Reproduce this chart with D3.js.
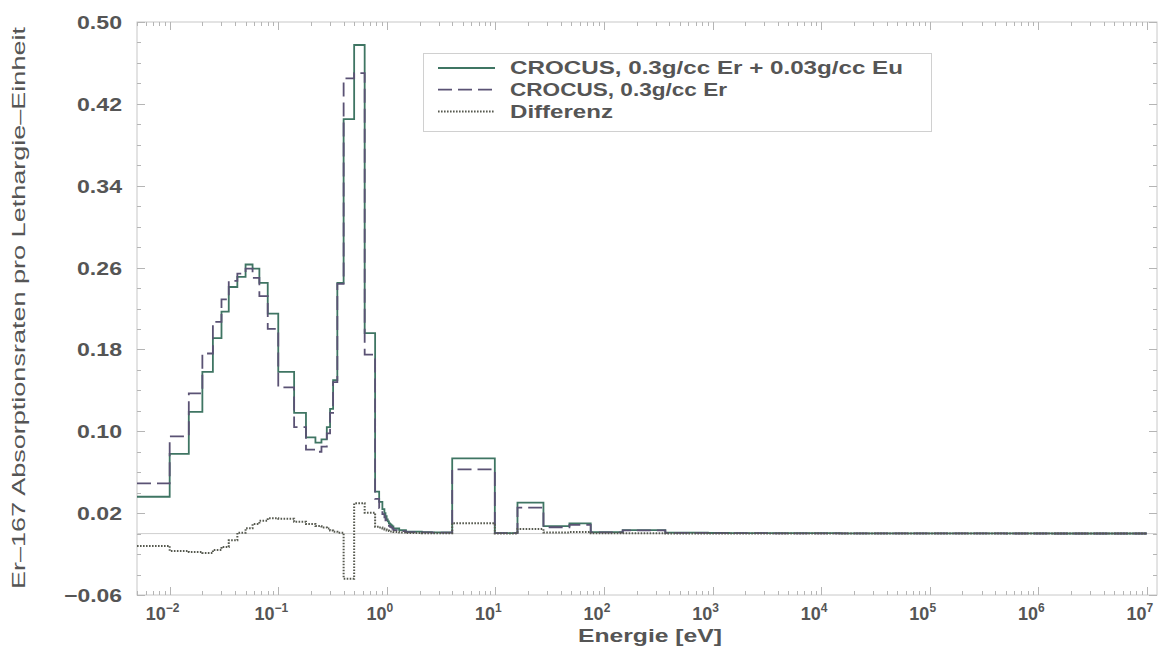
<!DOCTYPE html>
<html>
<head>
<meta charset="utf-8">
<script src="https://cdn.jsdelivr.net/npm/d3@7"></script>
<style>
  html, body { margin: 0; padding: 0; background: #fff; }
  svg { display: block; }
  text { font-family: "Liberation Sans", Arial, Helvetica, sans-serif; fill: #555; }
</style>
</head>
<body>
<svg id="chart" width="1161" height="652"></svg>
<script>
// WIMS 69-group energy boundaries (eV), ascending, from 5 meV up to 10 MeV
const groupEdges = [0.005, 0.01, 0.015, 0.02, 0.025, 0.03, 0.035, 0.042, 0.05, 0.058, 0.067, 0.08,
  0.1, 0.14, 0.18, 0.22, 0.25, 0.28, 0.3, 0.32, 0.35, 0.4, 0.5, 0.625, 0.78, 0.85, 0.91, 0.95,
  0.972, 0.996, 1.02, 1.045, 1.071, 1.097, 1.123, 1.15, 1.3, 1.5, 2.1, 2.6, 3.3, 4.0, 9.877,
  15.968, 27.7, 48.052, 75.501, 148.73, 367.26, 906.9, 1425.1, 2239.45, 3519.1, 5530, 9118,
  15030, 24780, 40850, 67340, 111000, 183000, 302500, 500000, 821000, 1353000, 2231000,
  3679000, 6065500, 1e7];

// Er-167 absorption rate per unit lethargy, CROCUS with 0.3 g/cc Er + 0.03 g/cc Eu
const rateErEu = [0.036, 0.078, 0.119, 0.158, 0.191, 0.217, 0.241, 0.251, 0.263, 0.259, 0.245, 0.215,
  0.158, 0.118, 0.094, 0.089, 0.092, 0.104, 0.122, 0.150, 0.245, 0.405, 0.4775, 0.196, 0.041, 0.031,
  0.024, 0.020, 0.017, 0.014, 0.012, 0.010, 0.009, 0.008, 0.007, 0.005, 0.0035, 0.002, 0.0015, 0.0012,
  0.0012, 0.0736, 0.0005, 0.0302, 0.0074, 0.010, 0.0015, 0.0035, 0.0010, 0.0006, 0.0005, 0.0005,
  0.0004, 0.0004, 0.0004, 0.0003, 0.0003, 0.0003, 0.0003, 0.0002, 0.0002, 0.0002, 0.0002, 0.0002,
  0.0001, 0.0001, 0.0001, 0.0001];

// Same quantity, CROCUS with 0.3 g/cc Er only
const rateEr = [0.049, 0.095, 0.137, 0.176, 0.207, 0.229, 0.247, 0.254, 0.259, 0.250, 0.232, 0.200,
  0.143, 0.104, 0.082, 0.080, 0.085, 0.098, 0.118, 0.148, 0.244, 0.445, 0.450, 0.175, 0.034, 0.025,
  0.019, 0.016, 0.013, 0.011, 0.009, 0.0075, 0.0065, 0.006, 0.005, 0.0035, 0.0025, 0.0015, 0.0012,
  0.0009, 0.0009, 0.0628, 0.0004, 0.0253, 0.0062, 0.0085, 0.0012, 0.0031, 0.0008, 0.0005, 0.0004,
  0.0004, 0.0003, 0.0003, 0.0003, 0.0003, 0.0003, 0.0002, 0.0002, 0.0002, 0.0002, 0.0002, 0.0001,
  0.0001, 0.0001, 0.0001, 0.0001, 0.0001];

// Difference between the two rates
const rateDiff = [-0.012, -0.017, -0.018, -0.019, -0.016, -0.013, -0.0066, 0.0009, 0.0052, 0.0094,
  0.0126, 0.015, 0.0145, 0.0116, 0.0094, 0.0074, 0.006, 0.005, 0.003, 0.0019, 0.0009, -0.044, 0.0296,
  0.0204, 0.0068, 0.006, 0.005, 0.004, 0.004, 0.003, 0.003, 0.0025, 0.002, 0.002, 0.002, 0.0015,
  0.001, 0.0005, 0.0003, 0.0003, 0.0003, 0.0101, 0.0001, 0.0045, 0.0012, 0.0015, 0.0003, 0.0004,
  0.0002, 0.0001, 0.0001, 0.0001, 0.0001, 0.0001, 0.0001, 0.0, 0.0, 0.0, 0.0, 0.0, 0.0, 0.0, 0.0,
  0.0, 0.0, 0.0, 0.0, 0.0];

const yTickValues = [-0.06, 0.02, 0.10, 0.18, 0.26, 0.34, 0.42, 0.50];
const xTickExponents = [-2, -1, 0, 1, 2, 3, 4, 5, 6, 7];

const legendLabels = ["CROCUS, 0.3g/cc Er + 0.03g/cc Eu", "CROCUS, 0.3g/cc Er", "Differenz"];
const xTitle = "Energie [eV]";
const yTitle = "Er\u2013167 Absorptionsraten pro Lethargie\u2013Einheit";

const svg = d3.select("#chart");
const frame = { left: 137, right: 1157, top: 22, bottom: 595 };

const x = d3.scaleLog().domain([5e-3, 1.24e7]).range([frame.left, frame.right]);
const y = d3.scaleLinear().domain([-0.06, 0.5]).range([frame.bottom, frame.top]);

const series = [
  { values: rateErEu, color: "#3f7563", dash: null, width: 1.8 },
  { values: rateEr, color: "#5a5274", dash: "14 6", width: 1.8 },
  { values: rateDiff, color: "#56594f", dash: "1.6 1.4", width: 2 }
];

// frame
svg.append("rect")
  .attr("x", frame.left).attr("y", frame.top)
  .attr("width", frame.right - frame.left).attr("height", frame.bottom - frame.top)
  .attr("fill", "none").attr("stroke", "#c8c8c8").attr("stroke-width", 1);

// zero reference line
svg.append("line")
  .attr("x1", frame.left).attr("x2", frame.right)
  .attr("y1", y(0)).attr("y2", y(0))
  .attr("stroke", "#cfcfcf").attr("stroke-width", 1);

// log minor/major ticks on bottom and top edges, pointing inward
const xTicks = [];
for (let e = -3; e <= 7; e++) {
  for (let m = 1; m <= 9; m++) {
    const v = m * Math.pow(10, e);
    if (v >= x.domain()[0] && v <= x.domain()[1]) xTicks.push({ v, major: m === 1 });
  }
}
const tickG = svg.append("g").attr("stroke", "#b5b5b5").attr("stroke-width", 1);
xTicks.forEach(t => {
  const px = Math.round(x(t.v)) + 0.5;
  const len = t.major ? 8 : 4;
  tickG.append("line").attr("x1", px).attr("x2", px).attr("y1", frame.bottom).attr("y2", frame.bottom - len);
  tickG.append("line").attr("x1", px).attr("x2", px).attr("y1", frame.top).attr("y2", frame.top + len);
});
// y ticks on left and right edges
d3.range(-0.06, 0.5001, 0.02).forEach(v => {
  const py = Math.round(y(v)) + 0.5;
  const major = yTickValues.some(t => Math.abs(t - v) < 1e-6);
  const len = major ? 8 : 4;
  tickG.append("line").attr("x1", frame.left).attr("x2", frame.left + len).attr("y1", py).attr("y2", py);
  tickG.append("line").attr("x1", frame.right).attr("x2", frame.right - len).attr("y1", py).attr("y2", py);
});

// y axis labels
const yAxis = d3.axisLeft(y).tickValues(yTickValues).tickSize(0).tickPadding(0)
  .tickFormat(d3.format(".2f"));
const yAxisG = svg.append("g").attr("transform", `translate(122,0)`).call(yAxis);
yAxisG.select(".domain").remove();
yAxisG.selectAll("text")
  .attr("font-size", 18).attr("font-weight", "bold").attr("fill", "#555")
  .attr("font-family", "\"Liberation Sans\", Arial, sans-serif")
  .attr("dy", "0.36em")
  .attr("textLength", d => d < 0 ? 58 : 45)
  .attr("lengthAdjust", "spacingAndGlyphs");

// x axis labels: 10 with superscript exponent
const xLab = svg.append("g");
xTickExponents.forEach(e => {
  const t = xLab.append("text")
    .attr("x", x(Math.pow(10, e)) - 7)
    .attr("y", 620)
    .attr("text-anchor", "middle")
    .attr("font-size", 18)
    .attr("font-weight", "bold");
  t.append("tspan").text("10");
  t.append("tspan").attr("dy", -8).attr("font-size", 12).text(e < 0 ? "\u2212" + (-e) : String(e));
});

// axis titles
svg.append("text")
  .attr("x", 650).attr("y", 642)
  .attr("text-anchor", "middle").attr("font-size", 19).attr("font-weight", "bold")
  .attr("textLength", 144).attr("lengthAdjust", "spacingAndGlyphs")
  .text(xTitle);

svg.append("text")
  .attr("transform", "translate(25,308) rotate(-90)")
  .attr("text-anchor", "middle").attr("font-size", 19)
  .attr("font-weight", "normal")
  .attr("fill", "#4e4e4e")
  .attr("textLength", 562).attr("lengthAdjust", "spacingAndGlyphs")
  .text(yTitle);

// step curves
const stepLine = d3.line()
  .x(d => x(d[0]))
  .y(d => y(d[1]))
  .curve(d3.curveStepAfter);

const plot = svg.append("g");
series.forEach(s => {
  const pts = s.values.map((v, i) => [groupEdges[i], v]);
  pts.push([groupEdges[groupEdges.length - 1], s.values[s.values.length - 1]]);
  plot.append("path")
    .attr("d", stepLine(pts))
    .attr("fill", "none")
    .attr("stroke", s.color)
    .attr("stroke-width", s.width)
    .attr("stroke-dasharray", s.dash)
    .attr("stroke-linejoin", "miter");
});

// legend
const lg = svg.append("g");
lg.append("rect")
  .attr("x", 423.5).attr("y", 53.5).attr("width", 508).attr("height", 78)
  .attr("fill", "#fff").attr("stroke", "#d0d0d0");
legendLabels.forEach((lab, i) => {
  const ly = 68 + i * 21.7;
  lg.append("line")
    .attr("x1", 438).attr("x2", 495).attr("y1", ly).attr("y2", ly)
    .attr("stroke", series[i].color).attr("stroke-width", series[i].width)
    .attr("stroke-dasharray", series[i].dash);
  lg.append("text")
    .attr("x", 510).attr("y", ly).attr("dy", "0.36em")
    .attr("font-size", 18).attr("font-weight", "bold")
    .attr("textLength", i === 0 ? 393 : (i === 1 ? 217 : 103))
    .attr("lengthAdjust", "spacingAndGlyphs")
    .text(lab);
});
</script>
</body>
</html>
